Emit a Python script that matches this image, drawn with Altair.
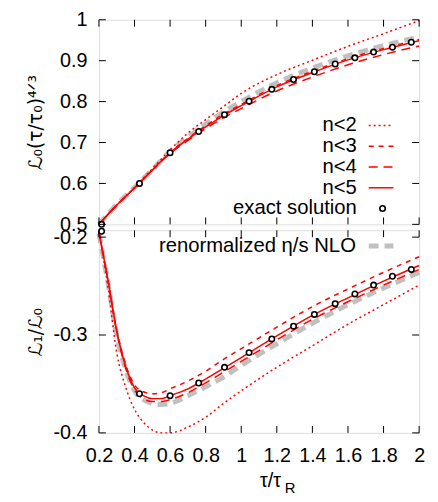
import altair as alt
import pandas as pd

# ---------------- data ----------------
# top panel: L0 (tau/tau0)^{4/3}
x_top = [0.2, 0.3, 0.4, 0.5, 0.6, 0.7, 0.8, 0.9, 1.0, 1.2, 1.4, 1.6, 1.8, 2.0]
top_n2 = [0.5, 0.547, 0.590, 0.636, 0.682, 0.723, 0.756, 0.788, 0.820, 0.866, 0.901, 0.935, 0.966, 0.998]
top_n3 = [0.5, 0.547, 0.589, 0.633, 0.676, 0.710, 0.741, 0.769, 0.793, 0.839, 0.874, 0.905, 0.930, 0.952]
top_n4 = [0.5, 0.547, 0.589, 0.632, 0.673, 0.705, 0.734, 0.760, 0.783, 0.826, 0.860, 0.890, 0.915, 0.936]
top_n5 = [0.5, 0.547, 0.589, 0.633, 0.675, 0.708, 0.738, 0.766, 0.790, 0.836, 0.871, 0.902, 0.927, 0.949]
top_renorm = [0.5, 0.548, 0.590, 0.634, 0.678, 0.713, 0.745, 0.775, 0.800, 0.846, 0.882, 0.912, 0.937, 0.958]

# bottom panel: L1 / L0
x_bot = [0.2, 0.25, 0.3, 0.35, 0.4, 0.45, 0.5, 0.55, 0.6, 0.7, 0.8, 0.9, 1.0, 1.2, 1.4, 1.6, 1.8, 2.0]
bot_n2 = [-0.195, -0.250, -0.318, -0.353, -0.376, -0.389, -0.397, -0.400, -0.400, -0.394, -0.384, -0.370, -0.357, -0.333, -0.311, -0.289, -0.269, -0.249]
bot_n3 = [-0.195, -0.243, -0.295, -0.330, -0.351, -0.358, -0.360, -0.359, -0.355, -0.347, -0.337, -0.325, -0.314, -0.292, -0.271, -0.253, -0.236, -0.220]
bot_n4 = [-0.195, -0.244, -0.297, -0.334, -0.356, -0.365, -0.368, -0.368, -0.366, -0.359, -0.349, -0.338, -0.327, -0.305, -0.284, -0.266, -0.249, -0.233]
bot_n5 = [-0.195, -0.243, -0.296, -0.332, -0.354, -0.362, -0.365, -0.365, -0.362, -0.355, -0.345, -0.334, -0.323, -0.301, -0.280, -0.262, -0.245, -0.229]
bot_renorm = [-0.196, -0.246, -0.300, -0.335, -0.357, -0.366, -0.370, -0.371, -0.370, -0.362, -0.353, -0.343, -0.331, -0.309, -0.288, -0.269, -0.252, -0.236]

# exact solution points
x_exact = [0.215, 0.428, 0.6, 0.761, 0.906, 1.044, 1.172, 1.294, 1.411, 1.528, 1.639, 1.744, 1.85, 1.956]
top_exact = [0.5, 0.600, 0.675, 0.727, 0.768, 0.801, 0.830, 0.854, 0.873, 0.892, 0.907, 0.921, 0.933, 0.945]
bot_exact = [-0.194, -0.360, -0.362, -0.349, -0.333, -0.318, -0.304, -0.291, -0.279, -0.268, -0.258, -0.249, -0.240, -0.233]

# axes ticks / labels
x_ticks = [0.2, 0.4, 0.6, 0.8, 1.0, 1.2, 1.4, 1.6, 1.8, 2.0]
top_y_ticks = [0.5, 0.6, 0.7, 0.8, 0.9, 1.0]
bot_y_ticks = [-0.4, -0.3, -0.2]
series_labels = ["n<2", "n<3", "n<4", "n<5"]
exact_label = "exact solution"
renorm_label = "renormalized η/s NLO"
top_ytitle = "ℒ₀(τ/τ₀)⁴ᐟ³"
bot_ytitle = "ℒ₁/ℒ₀"
xtitle_main = "τ/τ"
xtitle_sub = "R"

# ---------------- styling ----------------
W = 324
H_TOP = 207
H_BOT = 205
FONT = "Liberation Sans"
FS = 20
LFS = 20.5
RED = "#ff0000"
GRAY = "#c0c0c0"
dashes = [[2, 3], [5, 5], [9, 6], None]

x_dom = [0.2, 2.0]
top_dom = [0.5, 1.0]
bot_dom = [-0.4, -0.193]

label_expr = "'' + datum.value"


def yaxis(values, title, H):
    return alt.Axis(values=values, labelExpr=label_expr, ticks=False, tickSize=0,
                    domain=False, grid=False, labelPadding=12, labelFontSize=FS,
                    labelFont=FONT, labelColor="black", labelOverlap=False,
                    title=title,
                    titleFont="DejaVu Sans", titleFontSize=19, titleFontWeight="normal",
                    titleColor="black", titleX=-64, titleY=H / 2, titleAngle=270,
                    titleAlign="center", titleBaseline="middle")


def panel(xs, series, renorm, exact, ydom, yticks, ytitle, H, bottom):
    xscale = alt.Scale(domain=x_dom, nice=False, zero=False)
    yscale = alt.Scale(domain=ydom, nice=False, zero=False)
    if bottom:
        xaxis = alt.Axis(values=x_ticks, labelExpr=label_expr, ticks=False, tickSize=0,
                         domain=False, grid=False, labelPadding=13, labelFontSize=FS,
                         labelFont=FONT, labelColor="black", labelOverlap=False,
                         labelFlush=False, title=None)
    else:
        xaxis = None
    X = alt.X("x:Q", scale=xscale, axis=xaxis)
    Y = alt.Y("y:Q", scale=yscale, axis=yaxis(yticks, ytitle, H))

    layers = []
    # renormalized (gray thick dashed)
    df = pd.DataFrame({"x": xs, "y": renorm})
    layers.append(alt.Chart(df).mark_line(color=GRAY, strokeWidth=5, strokeDash=[10, 6],
                                          interpolate="monotone").encode(x=X, y=Y))
    # red series
    for vals, dash in zip(series, dashes):
        df = pd.DataFrame({"x": xs, "y": vals})
        kw = dict(color=RED, strokeWidth=1.5, interpolate="monotone")
        if dash:
            kw["strokeDash"] = dash
        layers.append(alt.Chart(df).mark_line(**kw).encode(x=X, y=Y))
    # exact points
    df = pd.DataFrame({"x": x_exact, "y": exact})
    layers.append(alt.Chart(df).mark_point(shape="circle", filled=True, fill="white",
                                           stroke="black", strokeWidth=1.6, size=30,
                                           opacity=1).encode(x=X, y=Y))
    # inside ticks (mirrored)
    ty = pd.DataFrame({"y": yticks})
    layers.append(alt.Chart(ty).mark_rule(color="black", strokeWidth=1).encode(
        y=Y, x=alt.value(0), x2=alt.value(7)))
    layers.append(alt.Chart(ty).mark_rule(color="black", strokeWidth=1).encode(
        y=Y, x=alt.value(W - 7), x2=alt.value(W)))
    tx = pd.DataFrame({"x": x_ticks})
    layers.append(alt.Chart(tx).mark_rule(color="black", strokeWidth=1).encode(
        x=X, y=alt.value(H - 7), y2=alt.value(H)))
    layers.append(alt.Chart(tx).mark_rule(color="black", strokeWidth=1).encode(
        x=X, y=alt.value(0), y2=alt.value(7)))
    return layers


def text_layer(t, x, y, size=LFS, align="right", baseline="middle"):
    return alt.Chart(pd.DataFrame({"t": [t]})).mark_text(
        align=align, baseline=baseline, fontSize=size, font=FONT, color="black"
    ).encode(x=alt.value(x), y=alt.value(y), text="t:N")


# ---------------- top panel ----------------
top_layers = panel(x_top, [top_n2, top_n3, top_n4, top_n5], top_renorm, top_exact,
                   top_dom, top_y_ticks, top_ytitle, H_TOP, bottom=False)
rows = [107, 128, 149, 170]
for lab, dash, ry in zip(series_labels, dashes, rows):
    top_layers.append(text_layer(lab, 261, ry))
    kw = dict(color=RED, strokeWidth=1.5)
    if dash:
        kw["strokeDash"] = dash
    top_layers.append(alt.Chart(pd.DataFrame({"k": [0]})).mark_rule(**kw).encode(
        x=alt.value(273), x2=alt.value(298), y=alt.value(ry)))
top_layers.append(text_layer(exact_label, 261, rows[-1] + 21))
top_layers.append(alt.Chart(pd.DataFrame({"k": [0]})).mark_point(
    shape="circle", filled=True, fill="white", stroke="black", strokeWidth=1.6, size=30,
    opacity=1).encode(x=alt.value(287), y=alt.value(rows[-1] + 21)))

top = alt.layer(*top_layers).properties(width=W, height=H_TOP)

# ---------------- bottom panel ----------------
bot_layers = panel(x_bot, [bot_n2, bot_n3, bot_n4, bot_n5], bot_renorm, bot_exact,
                   bot_dom, bot_y_ticks, bot_ytitle, H_BOT, bottom=True)
bot_layers.append(text_layer(renorm_label, 260, 16))
bot_layers.append(alt.Chart(pd.DataFrame({"k": [0]})).mark_rule(
    color=GRAY, strokeWidth=5, strokeDash=[10, 6]).encode(
    x=alt.value(273), x2=alt.value(298), y=alt.value(16)))
bot_layers.append(text_layer(xtitle_main, 163, H_BOT + 49, size=FS, align="left"))
bot_layers.append(text_layer(xtitle_sub, 188, H_BOT + 56, size=15, align="left"))

bot = alt.layer(*bot_layers).properties(width=W, height=H_BOT)

chart = alt.vconcat(top, bot, spacing=6, bounds="flush").properties(
    padding={"left": 18, "top": -2, "right": 0, "bottom": 0}
).configure_view(stroke="black", strokeWidth=1.2).configure(background="white")

chart.save("out.html", embed_options={"renderer": "svg", "actions": False})
